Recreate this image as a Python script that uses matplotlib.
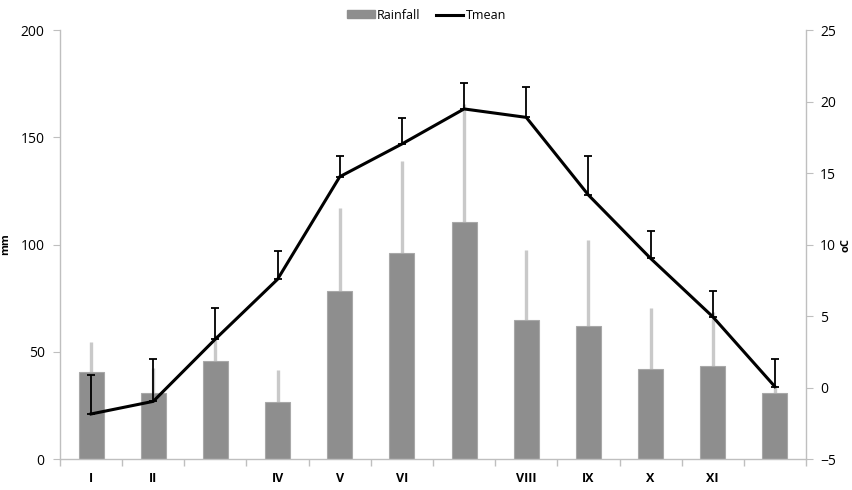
import matplotlib
matplotlib.use("Agg")
import matplotlib.pyplot as plt
import numpy as np
from matplotlib.patches import Patch
from matplotlib.lines import Line2D

months = ["I", "II", "", "IV", "V", "VI", "", "VIII", "IX", "X", "XI", ""]
rainfall = [40.6, 30.6, 45.8, 26.7, 78.3, 96.2, 110.5, 64.7, 62.0, 42.0, 43.5, 30.6]
rain_err = [14.0, 12.0, 12.0, 14.6, 38.5, 42.6, 55.0, 32.8, 40.3, 28.2, 25.0, 3.0]
tmean = [-1.85, -0.97, 3.39, 7.57, 14.74, 17.03, 19.48, 18.89, 13.46, 9.03, 4.95, 0.06]
tmean_err = [2.75, 2.94, 2.15, 1.95, 1.47, 1.84, 1.83, 2.10, 2.75, 1.91, 1.77, 1.95]

plt.rcParams['font.family'] = ['Open Sans', 'DejaVu Sans']

fig = plt.figure(figsize=(8.53, 4.90), dpi=100)
ax = fig.add_axes([60/853, 31/490, 746/853, 429/490])
ax2 = ax.twinx()

x = np.arange(len(months))
ax.bar(x, rainfall, width=0.4, color="#8e8e8e", edgecolor="#a8a8a8", linewidth=0.8, zorder=2)
ax.errorbar(x, rainfall, yerr=[np.zeros(len(x)), rain_err], fmt="none",
            ecolor="#c9c9c9", elinewidth=2.4, capsize=0, zorder=1)

ax2.errorbar(x, tmean, yerr=[np.zeros(len(x)), tmean_err], fmt="none",
             ecolor="black", elinewidth=1.3, capsize=3.0, capthick=1.3, zorder=3)
ax2.plot(x, tmean, color="black", linewidth=2.2, zorder=4, solid_joinstyle="miter")

ax.set_xlim(-0.5, len(x) - 0.5)
ax.set_ylim(0, 200)
ax.set_yticks([0, 50, 100, 150, 200])
ax2.set_ylim(-5, 25)
ax2.set_yticks([-5, 0, 5, 10, 15, 20, 25])

ax.set_xticks(x)
ax.set_xticklabels(months, fontweight="bold", fontsize=9)
ax.set_xticks(np.arange(-0.5, len(x) + 0.5, 1), minor=True)
ax.tick_params(axis="x", which="major", length=0, pad=9)
ax.tick_params(axis="x", which="minor", length=5, color="#bfbfbf", width=1)

for a in (ax, ax2):
    a.spines["top"].set_visible(False)
    for s in ("left", "right", "bottom"):
        a.spines[s].set_color("#bfbfbf")
        a.spines[s].set_linewidth(1.0)
ax.tick_params(axis="y", length=5, color="#bfbfbf", labelsize=10, pad=6)
ax2.tick_params(axis="y", length=5, color="#bfbfbf", labelsize=10, pad=5)
ax.spines["right"].set_visible(False)
ax2.spines["left"].set_visible(False)
ax2.spines["bottom"].set_visible(False)

ax.set_ylabel("mm", fontweight="bold", fontsize=8)
ax.yaxis.set_label_coords(-0.065, 0.5)
ax2.set_ylabel("oC", fontweight="bold", fontsize=8, rotation=90, va="center", ha="center")
ax2.yaxis.set_label_coords(1.053, 0.5)

handles = [Patch(facecolor="#8e8e8e", edgecolor="#8e8e8e"),
           Line2D([0], [0], color="black", linewidth=2.2)]
fig.legend(handles, ["Rainfall", "Tmean"], loc="center", bbox_to_anchor=(0.5, 0.969),
           ncol=2, frameon=False, fontsize=9, handlelength=2.2, handleheight=0.6,
           columnspacing=1.2, handletextpad=0.2)

fig.savefig("out.png", dpi=100)
